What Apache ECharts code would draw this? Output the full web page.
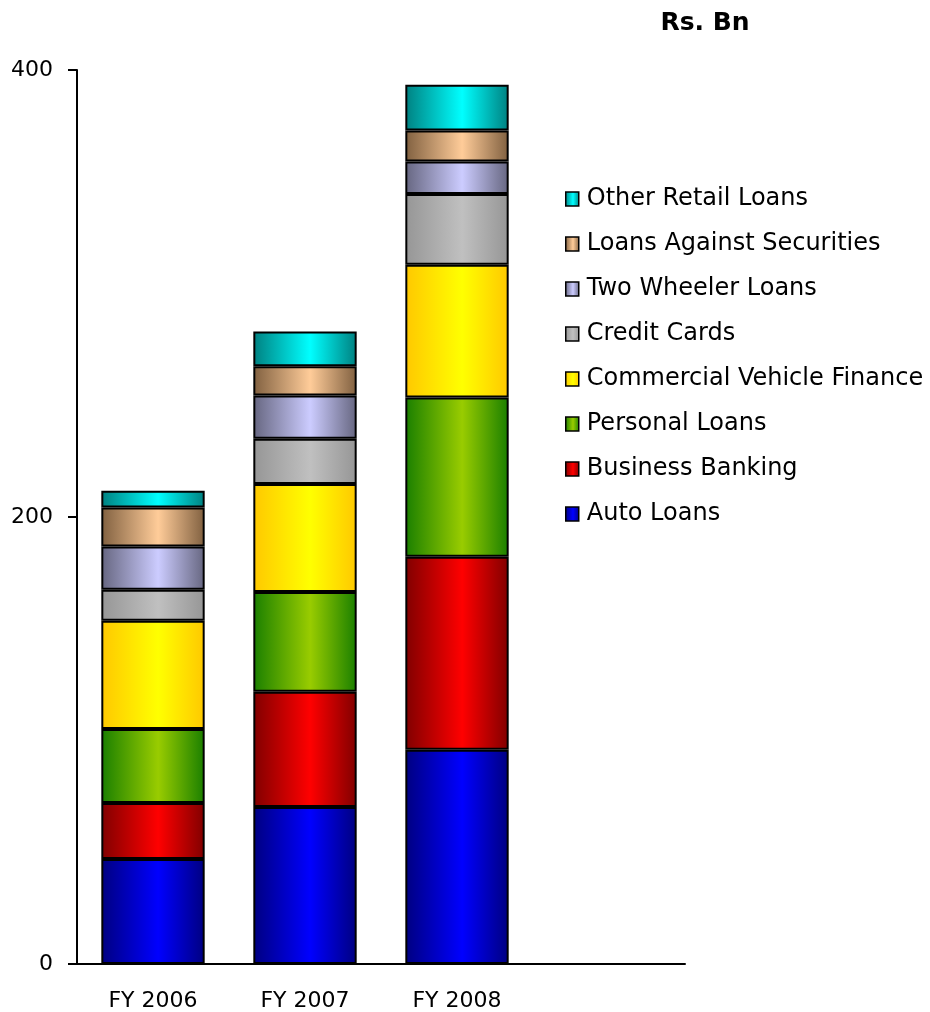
<!DOCTYPE html>
<html>
<head>
<meta charset="utf-8">
<script src="https://cdn.jsdelivr.net/npm/echarts@6/dist/echarts.min.js"></script>
<style>
  html, body { margin: 0; padding: 0; background: #fff; }
  #chart { width: 930px; height: 1012px; }
</style>
</head>
<body>
<div id="chart"></div>
<script>
// Retail loan book by product, Rs. Bn
const categories = ['FY 2006', 'FY 2007', 'FY 2008', ''];
const autoLoans = [47.0, 70.2, 95.9];
const businessBanking = [25.0, 51.6, 86.3];
const personalLoans = [33.1, 44.6, 71.3];
const commercialVehicle = [48.5, 48.4, 59.4];
const creditCards = [13.8, 20.2, 31.6];
const twoWheeler = [19.4, 19.4, 14.6];
const loansAgainstSec = [17.5, 13.0, 13.8];
const otherRetail = [7.5, 15.6, 20.5];
const yTicks = [0, 200, 400];

const FONT = '"DejaVu Sans", "Liberation Sans", Arial, sans-serif';

// horizontal shading: darker edges, bright centre
function shade(edge, mid) {
  return new echarts.graphic.LinearGradient(0, 0, 1, 0, [
    { offset: 0, color: edge },
    { offset: 0.55, color: mid },
    { offset: 1, color: edge }
  ]);
}

const seriesDefs = [
  { name: 'Auto Loans', data: autoLoans, edge: '#000080', mid: '#0000FF' },
  { name: 'Business Banking', data: businessBanking, edge: '#800000', mid: '#FF0000' },
  { name: 'Personal Loans', data: personalLoans, edge: '#1A7F00', mid: '#99CC00' },
  { name: 'Commercial Vehicle Finance', data: commercialVehicle, edge: '#FFC800', mid: '#FFFF00' },
  { name: 'Credit Cards', data: creditCards, edge: '#969696', mid: '#C0C0C0' },
  { name: 'Two Wheeler Loans', data: twoWheeler, edge: '#666680', mid: '#CCCCFF' },
  { name: 'Loans Against Securities', data: loansAgainstSec, edge: '#806040', mid: '#FFCC99' },
  { name: 'Other Retail Loans', data: otherRetail, edge: '#008080', mid: '#00FFFF' }
];

const chart = echarts.init(document.getElementById('chart'), null, { renderer: 'canvas' });

chart.setOption({
  animation: false,
  backgroundColor: '#ffffff',
  textStyle: { fontFamily: FONT, color: '#000' },
  title: {
    text: 'Rs. Bn',
    left: 700,
    top: 6,
    textAlign: 'center',
    textStyle: { fontSize: 25, fontWeight: 'bold', color: '#000', fontFamily: FONT }
  },
  legend: {
    orient: 'vertical',
    left: 565,
    top: 187,
    padding: 0,
    itemWidth: 13,
    itemHeight: 14,
    itemGap: 21,
    icon: 'rect',
    data: seriesDefs.map(s => s.name).reverse(),
    textStyle: { fontSize: 24, color: '#000', padding: [0, 0, 0, 3], fontFamily: FONT },
    itemStyle: { borderColor: '#000', borderWidth: 1.5 }
  },
  grid: { left: 77, right: 245, top: 70, bottom: 48, containLabel: false },
  xAxis: {
    type: 'category',
    data: categories,
    axisLine: { lineStyle: { color: '#000', width: 2 } },
    axisTick: { show: false },
    axisLabel: { fontSize: 22, color: '#000', margin: 26, fontFamily: FONT },
    splitLine: { show: false }
  },
  yAxis: {
    type: 'value',
    min: yTicks[0],
    max: yTicks[yTicks.length - 1],
    interval: 200,
    axisLine: { show: true, lineStyle: { color: '#000', width: 2 } },
    axisTick: { show: true, length: 9, lineStyle: { color: '#000', width: 2 } },
    axisLabel: { fontSize: 22, color: '#000', margin: 24, fontFamily: FONT },
    splitLine: { show: false }
  },
  series: seriesDefs.map(s => ({
    name: s.name,
    type: 'bar',
    stack: 'total',
    barWidth: '68%',
    data: s.data,
    itemStyle: {
      color: shade(s.edge, s.mid),
      borderColor: '#000',
      borderWidth: 2
    }
  }))
});
</script>
</body>
</html>
